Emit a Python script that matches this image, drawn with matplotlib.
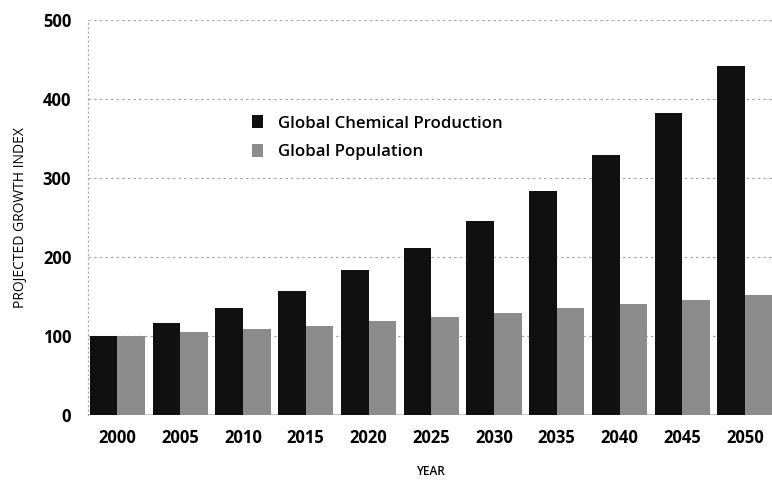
import matplotlib
matplotlib.use("Agg")
import matplotlib.pyplot as plt
import numpy as np

years = ["2000", "2005", "2010", "2015", "2020", "2025", "2030", "2035", "2040", "2045", "2050"]
chemical = [100, 117, 135, 157, 184, 211, 246, 284, 329, 382, 442]
population = [100, 105, 109, 113, 119, 124, 129, 135, 140, 146, 152]
y_ticks = [0, 100, 200, 300, 400, 500]

plt.rcParams['font.family'] = ['Open Sans', 'DejaVu Sans']

fig = plt.figure(figsize=(7.72, 4.8), dpi=100)
ax = fig.add_axes([88/772, 65/480, 1 - 88/772, 395/480])

x = np.arange(len(years))
w = 0.44
ax.bar(x - w/2, chemical, width=w, color="#101010", label="Global Chemical Production", zorder=3)
ax.bar(x + w/2, population, width=w, color="#8c8c8c", label="Global Population", zorder=3)

ax.set_xlim(-0.47, 10.43)
ax.set_ylim(0, 500)
ax.set_yticks(y_ticks)
ax.set_yticklabels([str(t) for t in y_ticks], fontsize=12, fontweight="bold")
ax.set_xticks(x)
ax.set_xticklabels(years, fontsize=12, fontweight="bold")
ax.tick_params(length=0, pad=10)
ax.tick_params(axis="y", pad=12)

for t in y_ticks[1:]:
    ax.axhline(t, color="#a8a8a8", lw=0.9, ls=(0, (2, 2.5)), zorder=1)
ax.axhline(0, color="#bbbbbb", lw=1.2, zorder=2)

for s in ["top", "right", "bottom"]:
    ax.spines[s].set_visible(False)
ax.spines["left"].set_color("#a8a8a8")
ax.spines["left"].set_linestyle((0, (1, 3)))
ax.spines["left"].set_linewidth(0.8)

ax.set_xlabel("YEAR", fontsize=8.5, fontweight="semibold", labelpad=13)
ax.set_ylabel("PROJECTED GROWTH INDEX", fontsize=10, labelpad=11)

leg = ax.legend(loc="upper left", bbox_to_anchor=((252 - 88) / 684, (415 - 115) / 395),
                frameon=False, borderpad=0, borderaxespad=0,
                prop={"size": 12.1, "weight": "semibold"},
                handlelength=0.65, handleheight=0.85, handletextpad=0.9,
                labelspacing=0.72)

fig.savefig("out.png", dpi=100)
